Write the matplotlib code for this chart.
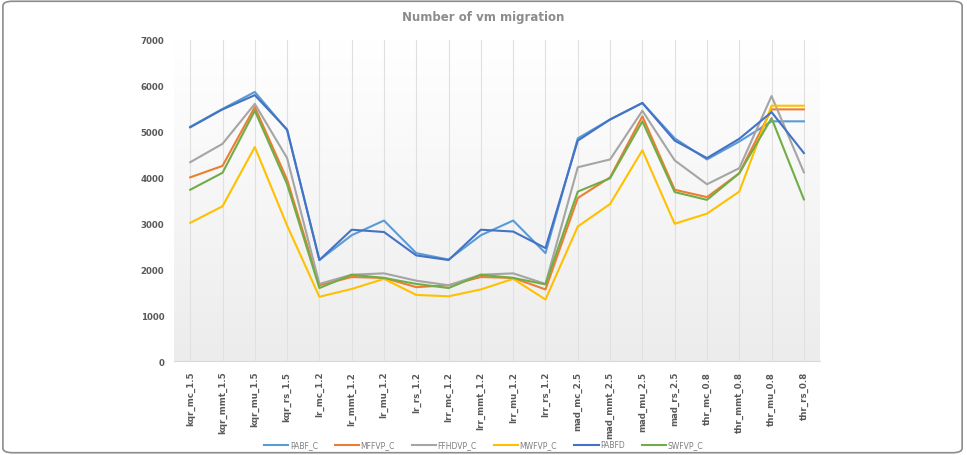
import numpy as np
import matplotlib.pyplot as plt
from matplotlib.patches import FancyBboxPatch
from matplotlib.colors import LinearSegmentedColormap

categories = ['kqr_mc_1.5', 'kqr_mmt_1.5', 'kqr_mu_1.5', 'kqr_rs_1.5',
              'lr_mc_1.2', 'lr_mmt_1.2', 'lr_mu_1.2', 'lr_rs_1.2',
              'lrr_mc_1.2', 'lrr_mmt_1.2', 'lrr_mu_1.2', 'lrr_rs_1.2',
              'mad_mc_2.5', 'mad_mmt_2.5', 'mad_mu_2.5', 'mad_rs_2.5',
              'thr_mc_0.8', 'thr_mmt_0.8', 'thr_mu_0.8', 'thr_rs_0.8']

pabf_c = [5100, 5490, 5860, 5030, 2200, 2740, 3060, 2350, 2210, 2740, 3060, 2350,
          4850, 5260, 5620, 4850, 4390, 4780, 5220, 5220]
mffvp_c = [4000, 4250, 5530, 3950, 1650, 1830, 1810, 1610, 1650, 1830, 1810, 1560,
           3550, 4000, 5330, 3730, 3570, 4090, 5480, 5480]
ffhdvp_c = [4330, 4730, 5600, 4420, 1680, 1880, 1910, 1750, 1650, 1880, 1910, 1680,
            4220, 4390, 5450, 4370, 3850, 4200, 5770, 4110]
mwfvp_c = [3010, 3370, 4660, 2950, 1400, 1570, 1790, 1440, 1410, 1560, 1790, 1340,
           2930, 3420, 4590, 2990, 3210, 3690, 5560, 5560]
pabfd = [5090, 5480, 5790, 5040, 2200, 2860, 2810, 2300, 2200, 2860, 2820, 2460,
         4800, 5260, 5620, 4800, 4420, 4840, 5420, 4530]
swfvp_c = [3730, 4100, 5450, 3850, 1590, 1880, 1810, 1680, 1590, 1880, 1810, 1670,
           3690, 3980, 5220, 3680, 3510, 4090, 5290, 3520]

series = [('PABF_C', pabf_c, '#5B9BD5'),
          ('MFFVP_C', mffvp_c, '#ED7D31'),
          ('FFHDVP_C', ffhdvp_c, '#A5A5A5'),
          ('MWFVP_C', mwfvp_c, '#FFC000'),
          ('PABFD', pabfd, '#4472C4'),
          ('SWFVP_C', swfvp_c, '#70AD47')]

fig = plt.figure(figsize=(9.67, 4.56), dpi=100)
# rounded frame round the whole picture
fig.patches.append(FancyBboxPatch((0.003, 0.005), 0.992, 0.99, transform=fig.transFigure,
                                  boxstyle='round,pad=0,rounding_size=0.01',
                                  fill=False, edgecolor='#8c8c8c', linewidth=1.2))
ax = fig.add_axes([0.18, 0.206, 0.668, 0.705])

x = np.arange(len(categories))
ax.set_xlim(-0.5, len(categories) - 0.5)
ax.set_ylim(0, 7000)

# gradient background like the excel plot area
grad = np.linspace(0, 1, 256).reshape(-1, 1)
ax.imshow(grad, extent=[-0.5, len(categories) - 0.5, 0, 7000], aspect='auto',
          cmap=LinearSegmentedColormap.from_list('g', ['#ececec', '#f6f6f6', '#ffffff']),
          origin='lower', zorder=0)

for xi in x:
    ax.axvline(xi, color='#e0e0e0', linewidth=0.8, zorder=1)

for name, vals, col in series:
    ax.plot(x, vals, color=col, linewidth=1.5, label=name, zorder=3)

ax.set_xticks(x)
ax.set_xticklabels(categories, rotation=90, fontsize=6.2, fontweight='bold', color='#595959')
ax.set_yticks(range(0, 7001, 1000))
ax.set_yticklabels([str(v) for v in range(0, 7001, 1000)], fontsize=6.2, fontweight='bold', color='#595959')
ax.tick_params(length=0, pad=7)
for s in ['top', 'right', 'left']:
    ax.spines[s].set_visible(False)
ax.spines['bottom'].set_color('#d9d9d9')

fig.text(0.5, 0.962, 'Number of vm migration', ha='center', va='center',
         fontsize=8.5, fontweight='bold', color='#8c8c8c')

ax.legend(loc='center', bbox_to_anchor=(0.5, 0.022), bbox_transform=fig.transFigure,
          ncol=6, frameon=False, fontsize=5.5, handlelength=3.2, handletextpad=0.2,
          columnspacing=2.2, labelcolor='#7f7f7f')

fig.savefig('out.png', dpi=100)
